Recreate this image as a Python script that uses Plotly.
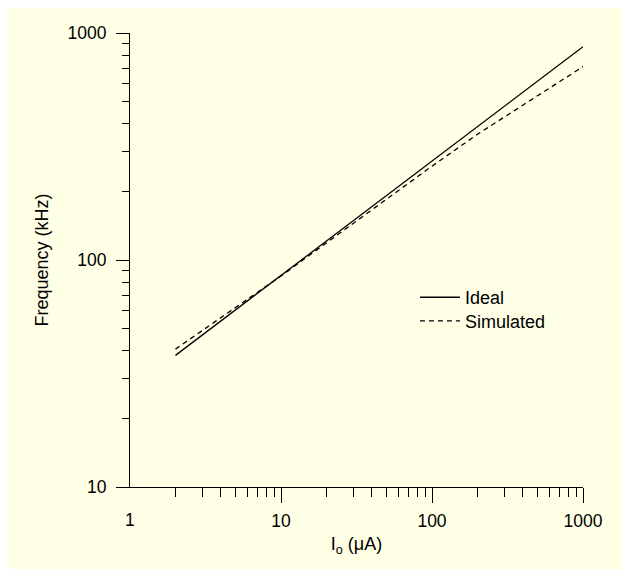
import plotly.graph_objects as go

# Data
current_uA = [2, 5, 10, 20, 50, 100, 200, 500, 1000]
ideal_khz = [38, 60.3, 85.4, 121, 192, 272, 387, 613, 870]
simulated_khz = [40.5, 62, 85, 119, 185, 259, 358, 530, 711]

x_major_ticks = [10, 100, 1000]
x_major_labels = ["10", "100", "1000"]
x_first_label = "1"
y_major_ticks = [10, 100, 1000]
y_major_labels = ["10", "100", "1000"]
x_minor_ticks = [m * d for d in (1, 10, 100) for m in range(2, 10)]
y_minor_ticks = [m * d for d in (10, 100) for m in range(2, 10)]

bg = "#FFFFE6"
font_family = "Liberation Sans, Arial, sans-serif"
tick_size = 17.5
text_size = 18

fig = go.Figure()
fig.add_trace(go.Scatter(x=current_uA, y=ideal_khz, mode="lines", name="Ideal",
                         line=dict(color="black", width=1.3), legend="legend"))
fig.add_trace(go.Scatter(x=current_uA, y=simulated_khz, mode="lines", name="Simulated",
                         line=dict(color="black", width=1.3, dash="5px,4px"),
                         legend="legend2"))

legend_style = dict(xanchor="left", yanchor="top", bgcolor="rgba(0,0,0,0)",
                    font=dict(size=text_size), itemwidth=40)

fig.update_layout(
    width=622, height=561,
    margin=dict(l=122, r=47, t=25, b=82),
    paper_bgcolor=bg, plot_bgcolor=bg,
    font=dict(family=font_family, size=text_size, color="black"),
    showlegend=True,
    legend=dict(x=0.629, y=0.458, **legend_style),
    legend2=dict(x=0.629, y=0.406, **legend_style),
    annotations=[
        dict(x=0, y=0, xref="x", yref="paper", text=x_first_label, showarrow=False,
             yanchor="top", yshift=-21, font=dict(size=tick_size))
    ],
)

fig.update_xaxes(
    type="log", range=[0, 3],
    showline=True, linecolor="black", linewidth=1,
    showgrid=False, zeroline=False,
    ticks="outside", ticklen=15, tickwidth=1, tickcolor="black",
    tickvals=x_major_ticks, ticktext=x_major_labels,
    tickfont=dict(size=tick_size),
    minor=dict(tickvals=x_minor_ticks, ticks="outside", ticklen=9, tickwidth=1,
               tickcolor="black", showgrid=False),
    title=dict(text="I<sub>o</sub> (μA)", font=dict(size=text_size), standoff=7),
    ticklabelstandoff=3,
)
fig.update_yaxes(
    type="log", range=[1, 3],
    showline=True, linecolor="black", linewidth=1,
    showgrid=False, zeroline=False,
    ticks="outside", ticklen=13, tickwidth=1, tickcolor="black",
    tickvals=y_major_ticks, ticktext=y_major_labels,
    tickfont=dict(size=tick_size),
    minor=dict(tickvals=y_minor_ticks, ticks="outside", ticklen=7, tickwidth=1,
               tickcolor="black", showgrid=False),
    title=dict(text="Frequency (kHz)", font=dict(size=text_size), standoff=14),
    ticklabelstandoff=6,
)

fig.write_html("out.html")
